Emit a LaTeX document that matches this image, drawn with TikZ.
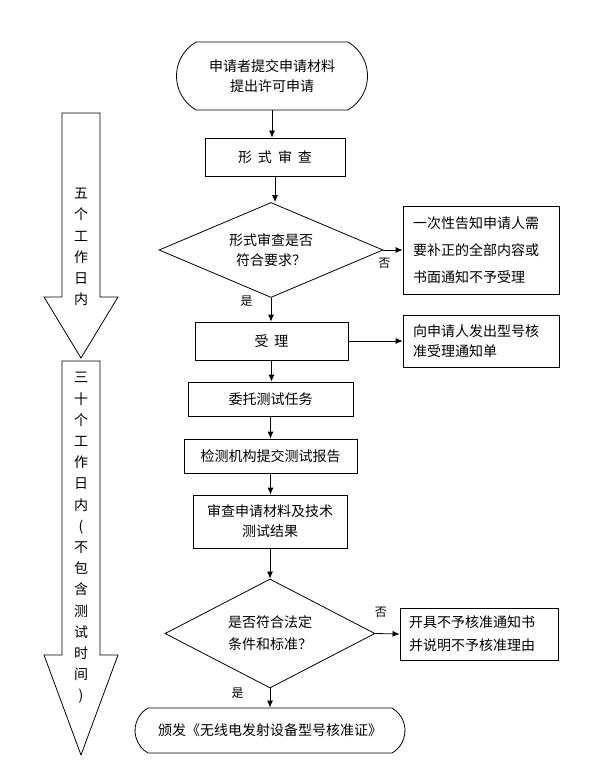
\documentclass[tikz,border=0pt]{standalone}
\usepackage{fontspec}
\setmainfont{Noto Sans CJK SC}
\usetikzlibrary{shapes.geometric,shapes.misc,arrows.meta}

\newcommand{\gap}{\hspace{6pt}}

\begin{document}
\begin{tikzpicture}[x=1pt,y=-1pt,line width=0.8pt,
  font=\fontsize{14pt}{20pt}\selectfont,
  box/.style={draw, rectangle, inner sep=0pt, align=center},
  note/.style={draw, rectangle, inner sep=0pt, align=left},
  terminal/.style={draw, rounded rectangle, rounded rectangle arc length=120,
    inner sep=0pt, align=center},
  decision/.style={draw, diamond, aspect=2, inner sep=0pt, align=center},
  flow/.style={-{Latex[length=7pt,width=6pt]}},
  tag/.style={font=\fontsize{12pt}{12pt}\selectfont, inner sep=0pt},
  period/.style={inner sep=0pt, align=center,
    font=\fontsize{14pt}{21.2pt}\selectfont}]
  \useasboundingbox (0,0) rectangle (596,770);

  % time arrows on the left
  \draw (62,113) -- (100,113) -- (100,297) -- (118,297) -- (81,358)
    -- (44,297) -- (62,297) -- cycle;
  \draw (62,361) -- (100,361) -- (100,655) -- (118,655) -- (81,755)
    -- (44,655) -- (62,655) -- cycle;
  \node[period] (fivedays) at (81,247) {五\\个\\工\\作\\日\\内};
  \node[period] (thirtydays) at (81,538)
    {三\\十\\个\\工\\作\\日\\内\\(\\不\\包\\含\\测\\试\\时\\间\\)};

  % main flow
  \node[terminal, minimum width=191pt, minimum height=68pt] (start) at (272,76)
    {申请者提交申请材料\\提出许可申请};
  \node[box, minimum width=140pt, minimum height=38pt] (check) at (275,157)
    {形\gap 式\gap 审\gap 查};
  \node[decision, minimum width=224pt, minimum height=95pt] (dec1) at (271,250)
    {形式审查是否\\符合要求？};
  \node[note, text width=136pt, minimum width=156pt, minimum height=88pt,
    font=\fontsize{14pt}{27pt}\selectfont] (notice1) at (481,250)
    {一次性告知申请人需\\要补正的全部内容或\\书面通知不予受理};
  \node[box, minimum width=153pt, minimum height=38pt] (accept) at (271.5,341)
    {受\gap 理};
  \node[note, text width=136pt, minimum width=156pt, minimum height=52pt] (notice2) at (481,341)
    {向申请人发出型号核\\准受理通知单};
  \node[box, minimum width=165pt, minimum height=34pt] (entrust) at (270.5,399)
    {委托测试任务};
  \node[box, minimum width=173pt, minimum height=34pt] (report) at (270.5,456)
    {检测机构提交测试报告};
  \node[box, minimum width=154pt, minimum height=53pt] (review) at (270,521.5)
    {审查申请材料及技术\\测试结果};
  \node[decision, minimum width=210pt, minimum height=109pt,
    font=\fontsize{14pt}{22pt}\selectfont] (dec2) at (270,633.5)
    {是否符合法定\\条件和标准？};
  \node[note, text width=140pt, minimum width=158pt, minimum height=52pt,
    font=\fontsize{14pt}{23pt}\selectfont] (refuse) at (479,634)
    {开具不予核准通知书\\并说明不予核准理由};
  \node[terminal, minimum width=270pt, minimum height=45pt] (issue) at (270,730.5)
    {颁发《无线电发射设备型号核准证》};

  % connectors
  \draw[flow] (start.south) -- (start.south |- check.north);
  \draw[flow] (check.south) -- (check.south |- dec1.north);
  \draw[flow] (dec1.east) -- node[tag, at start, anchor=north west, xshift=-5.5pt, yshift=-8pt] (no1) {否} (notice1.west);
  \draw[flow] (dec1.south) -- node[tag, at start, anchor=north east, xshift=-18pt, yshift=2.5pt] (yes1) {是} (dec1.south |- accept.north);
  \draw[flow] (accept.east) -- (notice2.west);
  \draw[flow] (accept.south) -- (accept.south |- entrust.north);
  \draw[flow] (entrust.south) -- (entrust.south |- report.north);
  \draw[flow] (report.south) -- (report.south |- review.north);
  \draw[flow] (review.south) -- (review.south |- dec2.north);
  \draw[flow] (dec2.east) -- node[tag, at start, anchor=south west, xshift=-1pt, yshift=15.5pt] (no2) {否} (refuse.west);
  \draw[flow] (dec2.south) -- node[tag, at start, anchor=north east, xshift=-26pt, yshift=1pt] (yes2) {是} (dec2.south |- issue.north);
\end{tikzpicture}
\end{document}
